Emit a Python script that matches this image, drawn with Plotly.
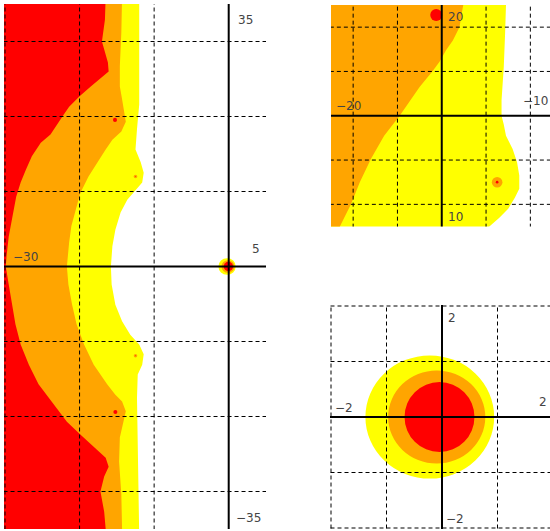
import plotly.graph_objects as go

# ---------------- data ----------------
# Main panel (x -30..5, y -35..35): level-set boundaries, listed top -> bottom
MAIN_RED_Y = [35, 32.9, 30.0, 28.5, 27.2, 26.0, 25.2, 24.0, 22.7, 21.3, 20.0, 18.7, 17.6, 16.5, 14.7, 12.9,
              11.2, 9.3, 6.7, 4.0, 1.3, 0, -2.4, -5.1, -7.7, -10.4, -13.1, -15.7, -17.5, -18.8, -20.7, -22.4,
              -24.1, -25.5, -26.7, -28.0, -30.0, -32.7, -35]
MAIN_RED_X = [-16.5, -16.6, -17.0, -16.6, -16.2, -16.1, -17.0, -18.5, -20.0, -21.4, -22.3, -23.2, -23.9, -25.2,
              -26.4, -27.2, -27.9, -28.5, -29.0, -29.5, -29.8, -29.9, -29.5, -29.0, -28.6, -27.9, -26.8, -25.5,
              -24.1, -23.2, -21.7, -19.9, -18.1, -16.5, -16.1, -16.7, -17.2, -16.7, -16.5]

MAIN_ORANGE_Y = [35, 31.2, 26.7, 24.0, 22.3, 20.5, 19.3, 18.0, 16.9, 15.6, 13.9, 12.0, 9.8, 7.6, 5.4, 3.2, 0,
                 -2.4, -5.1, -7.7, -10.4, -13.1, -15.7, -17.1, -18.0, -19.3, -20.7, -22.8, -26.0, -30.4, -35]
MAIN_ORANGE_X = [-14.3, -14.4, -14.6, -14.6, -14.3, -14.0, -13.8, -14.4, -15.6, -16.5, -17.6, -18.8, -19.9,
                 -20.5, -21.1, -21.4, -21.7, -21.5, -21.0, -20.4, -19.4, -18.1, -16.3, -15.2, -14.3, -13.8,
                 -14.1, -14.6, -14.7, -14.4, -14.3]

MAIN_YELLOW_Y = [35, 21.6, 18.3, 15.6, 13.9, 12.5, 11.2, 10.0, 8.9, 7.2, 4.9, 2.7, 0, -2.4, -5.1, -7.3, -9.1,
                 -10.4, -11.7, -13.1, -14.4, -17.5, -35]
MAIN_YELLOW_X = [-12.0, -12.0, -12.3, -12.5, -11.8, -11.4, -11.6, -12.7, -13.6, -14.5, -15.2, -15.6, -15.8,
                 -15.7, -15.2, -14.3, -13.2, -12.0, -11.4, -11.6, -12.2, -12.3, -12.0]

# Zoom panel (x -20..-10, y 10..20)
ZOOM_ORANGE_Y = [20.0, 19.6, 19.0, 18.4, 17.97, 17.44, 17.03, 16.3, 15.7, 15.0, 14.1, 13.05, 12.0, 11.0, 10.0]
ZOOM_ORANGE_X = [-14.03, -14.1, -14.2, -14.5, -14.8, -15.1, -15.4, -16.0, -16.4, -16.9, -17.6, -18.2, -18.7,
                 -19.1, -19.6]
ZOOM_YELLOW_Y = [20.0, 18.7, 17.2, 15.7, 15.0, 14.6, 14.1, 13.5, 12.9, 12.3, 11.7, 11.3, 10.8, 10.4, 10.0]
ZOOM_YELLOW_X = [-12.1, -12.14, -12.2, -12.3, -12.3, -12.2, -12.1, -11.8, -11.6, -11.5, -11.5, -11.7, -12.0,
                 -12.4, -12.85]

# isolated spots (red spots and orange/red spots)
RED_SPOT_X = [-15.25, -15.2]
RED_SPOT_Y = [19.55, -19.4]
RING_SPOT_X = [-12.5, -12.5]
RING_SPOT_Y = [12.0, -11.9]

# blob around the origin: yellow, orange, red levels
ORIGIN_CX = [-0.22, -0.095, -0.045]
ORIGIN_RX = [1.16, 0.875, 0.63]
ORIGIN_RY = [1.11, 0.84, 0.63]

# grid lines / tick labels
MAIN_GRID_X = [-30, -20, -10]
MAIN_GRID_Y = [-30, -20, -10, 10, 20, 30]
ZOOM_GRID_X = [-19, -17, -13, -11]
ZOOM_GRID_Y = [11, 13, 17, 19]
SMALL_GRID_X = [-2, -1, 1, 2]
SMALL_GRID_Y = [-2, -1, 1, 2]
MAIN_LABELS = ["35", "5", "\u221230", "\u221235"]
ZOOM_LABELS = ["20", "\u221220", "\u221210", "10"]
SMALL_LABELS = ["2", "\u22122", "2", "\u22122"]

# ---------------- styling ----------------
RED, ORANGE, YELLOW = "#FF0000", "#FFA500", "#FFFF00"
W, H = 550, 531


def fx(px):
    return px / W


def fy(py):
    return (H - py) / H


fig = go.Figure()


def region(xs, ys, x_edge, color, xa, ya, pad=1.0):
    px = [xs[0]] + list(xs) + [xs[-1], x_edge, x_edge]
    py = [ys[0] + pad] + list(ys) + [ys[-1] - pad, ys[-1] - pad, ys[0] + pad]
    fig.add_trace(go.Scatter(x=px, y=py, mode="lines", fill="toself", fillcolor=color,
                             line=dict(width=0), hoverinfo="skip", showlegend=False,
                             xaxis=xa, yaxis=ya))


# main panel regions
region(MAIN_YELLOW_X, MAIN_YELLOW_Y, -32, YELLOW, "x", "y")
region(MAIN_ORANGE_X, MAIN_ORANGE_Y, -32, ORANGE, "x", "y")
region(MAIN_RED_X, MAIN_RED_Y, -32, RED, "x", "y")
# zoom panel regions
region(ZOOM_YELLOW_X, ZOOM_YELLOW_Y, -22, YELLOW, "x2", "y2")
region(ZOOM_ORANGE_X, ZOOM_ORANGE_Y, -22, ORANGE, "x2", "y2")

shapes = []


def disk(cx, cy, rx, ry, color, xr, yr):
    shapes.append(dict(type="circle", xref=xr, yref=yr, x0=cx - rx, x1=cx + rx, y0=cy - ry, y1=cy + ry,
                       fillcolor=color, line=dict(width=0), layer="above"))


for xr, yr in [("x", "y"), ("x2", "y2")]:
    for sx, sy in zip(RED_SPOT_X, RED_SPOT_Y):
        disk(sx, sy, 0.27, 0.27, RED, xr, yr)
    for sx, sy in zip(RING_SPOT_X, RING_SPOT_Y):
        disk(sx, sy, 0.24, 0.24, ORANGE, xr, yr)
        disk(sx, sy, 0.06, 0.06, RED, xr, yr)

for xr, yr in [("x", "y"), ("x3", "y3")]:
    for cx, rx, ry, col in zip(ORIGIN_CX, ORIGIN_RX, ORIGIN_RY, [YELLOW, ORANGE, RED]):
        disk(cx, 0, rx, ry, col, xr, yr)

# ranges
MAIN_XR = [-30 - 1 / 7.457, 5]
MAIN_YR = [-35, 35]
ZOOM_XR = [-20, -20 + 219 / 22.15]
ZOOM_YR = [10, 20]
SMALL_XR = [-2 - 1 / 55.5, -2 + 219 / 55.5]
SMALL_YR = [-2 - 1 / 55.5, 2 + 1 / 55.5]

DASH = dict(color="black", width=1, dash="4px,3px")


def grid(gx, gy, xr, yr, xrange, yrange):
    for v in gx:
        shapes.append(dict(type="line", xref=xr, yref=yr, x0=v, x1=v, y0=yrange[0] - 1, y1=yrange[1] + 1,
                           line=DASH, layer="above"))
    for v in gy:
        shapes.append(dict(type="line", xref=xr, yref=yr, y0=v, y1=v, x0=xrange[0] - 1, x1=xrange[1] + 1,
                           line=DASH, layer="above"))


def axes(ox, oy, xr, yr, xrange, yrange):
    shapes.append(dict(type="line", xref=xr, yref=yr, x0=ox, x1=ox, y0=yrange[0] - 1, y1=yrange[1] + 1,
                       line=dict(color="black", width=2), layer="above"))
    shapes.append(dict(type="line", xref=xr, yref=yr, y0=oy, y1=oy, x0=xrange[0] - 1, x1=xrange[1] + 1,
                       line=dict(color="black", width=2), layer="above"))


grid(MAIN_GRID_X, MAIN_GRID_Y, "x", "y", MAIN_XR, MAIN_YR)
grid(ZOOM_GRID_X, ZOOM_GRID_Y, "x2", "y2", ZOOM_XR, ZOOM_YR)
grid(SMALL_GRID_X, SMALL_GRID_Y, "x3", "y3", SMALL_XR, SMALL_YR)
axes(0, 0, "x", "y", MAIN_XR, MAIN_YR)
axes(-15, 15, "x2", "y2", ZOOM_XR, ZOOM_YR)
axes(0, 0, "x3", "y3", SMALL_XR, SMALL_YR)

FONT = dict(family="DejaVu Sans", size=12, color="#444444")
annotations = []
label_pos = {
    "main": [(2.2, 32.8), (3.6, 2.3), (-27.2, 1.3), (2.7, -33.5)],
    "zoom": [(-14.38, 19.44), (-19.23, 15.44), (-10.78, 15.65), (-14.38, 10.44)],
    "small": [(0.18, 1.78), (-1.76, 0.17), (1.82, 0.27), (0.24, -1.83)],
}
for key, texts, xr, yr in [("main", MAIN_LABELS, "x", "y"), ("zoom", ZOOM_LABELS, "x2", "y2"),
                           ("small", SMALL_LABELS, "x3", "y3")]:
    for t, (ax, ay) in zip(texts, label_pos[key]):
        annotations.append(dict(text=t, x=ax, y=ay, xref=xr, yref=yr, showarrow=False, font=FONT,
                                xanchor="center", yanchor="middle"))

ax_common = dict(visible=False, fixedrange=True)
fig.update_layout(
    width=W, height=H, margin=dict(l=0, r=0, t=0, b=0),
    paper_bgcolor="white", plot_bgcolor="white", showlegend=False,
    xaxis=dict(domain=[fx(4), fx(266)], range=MAIN_XR, **ax_common),
    yaxis=dict(domain=[fy(529), fy(4)], range=MAIN_YR, **ax_common),
    xaxis2=dict(domain=[fx(331), 1], range=ZOOM_XR, anchor="y2", **ax_common),
    yaxis2=dict(domain=[fy(226.5), fy(5)], range=ZOOM_YR, anchor="x2", **ax_common),
    xaxis3=dict(domain=[fx(330), 1], range=SMALL_XR, anchor="y3", **ax_common),
    yaxis3=dict(domain=[fy(529), fy(305)], range=SMALL_YR, anchor="x3", **ax_common),
    shapes=shapes, annotations=annotations,
)

fig.write_html("out.html", config={"displayModeBar": False},
               post_script="document.body.style.margin='0';document.body.style.overflow='hidden';")
